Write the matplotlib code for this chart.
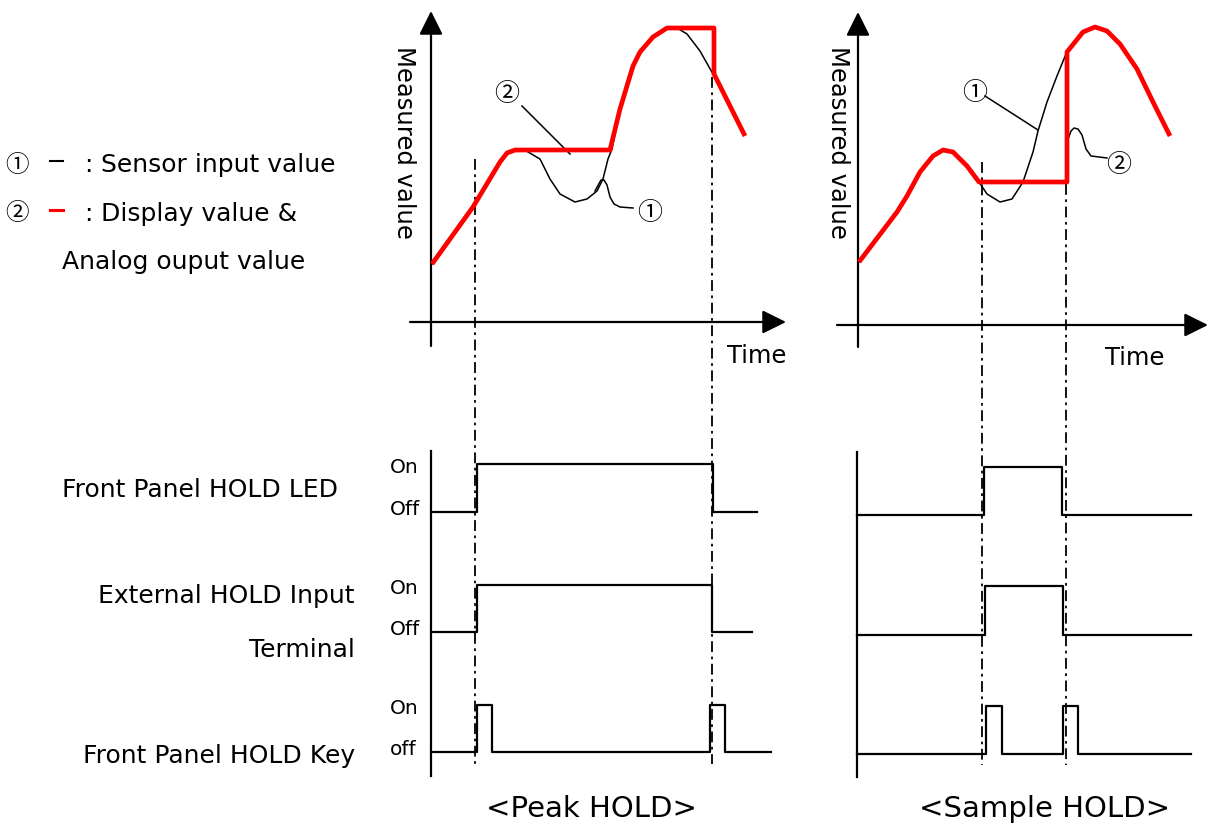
import matplotlib
matplotlib.use('Agg')
import matplotlib.pyplot as plt

plt.rcParams['font.family'] = ['DejaVu Sans', 'Noto Sans CJK KR']

# ---- curves (page pixel coords: x to the right, y downward) ----
# Peak HOLD: sensor input (black) and display value (red)
peak_sensor_x = [432, 473, 487, 500, 510, 523, 540, 550, 560, 575, 587, 597, 603, 608, 612,
                 620, 633, 640, 653, 667, 677, 687, 700, 713]
peak_sensor_y = [265, 208, 187, 163, 153, 150, 160, 180, 195, 203, 200, 192, 180, 160, 150,
                 110, 67, 53, 38, 29, 29, 35, 52, 75]
peak_display_x = [432, 473, 500, 507, 515, 527, 610, 620, 633, 640, 653, 667, 714, 714, 745]
peak_display_y = [265, 208, 163, 154, 151, 151, 151, 110, 67, 53, 38, 29, 29, 75, 137]

# Sample HOLD
sample_sensor_x = [859, 897, 907, 920, 933, 943, 953, 967, 979, 987, 1000, 1012, 1023, 1033,
                   1038, 1047, 1057, 1066]
sample_sensor_y = [263, 213, 197, 173, 157, 151, 153, 167, 183, 195, 203, 200, 183, 153,
                   132, 103, 77, 55]
sample_display_x = [859, 897, 907, 920, 933, 943, 953, 967, 979, 1067, 1067, 1083, 1095, 1107,
                    1120, 1137, 1153, 1170]
sample_display_y = [263, 213, 197, 173, 157, 151, 153, 167, 183, 183, 53, 33, 28, 32,
                    45, 70, 103, 137]

# ---- timing signals: edge times and states (steps-post) ----
peak_led_t = [431, 477, 713, 757]
peak_led_s = [0, 1, 0, 0]
peak_ext_t = [431, 477, 712, 752]
peak_ext_s = [0, 1, 0, 0]
peak_key_t = [431, 477, 492, 710, 725, 771]
peak_key_s = [0, 1, 0, 1, 0, 0]
peak_rows = [(513, 465), (633, 586), (753, 706)]  # (off y, on y)

sample_led_t = [857, 984, 1062, 1191]
sample_led_s = [0, 1, 0, 0]
sample_ext_t = [857, 985, 1063, 1191]
sample_ext_s = [0, 1, 0, 0]
sample_key_t = [857, 986, 1002, 1063, 1078, 1191]
sample_key_s = [0, 1, 0, 1, 0, 0]
sample_rows = [(516, 468), (636, 587), (755, 707)]

# hold trigger instants (dash-dot guide lines): x, top y, bottom y
peak_guides = [(475, 160, 765), (712, 78, 765)]
sample_guides = [(982, 163, 766), (1066, 185, 766)]

RED = '#ff0000'
CJK = ['Noto Sans CJK KR', 'DejaVu Sans']

fig = plt.figure(figsize=(12.08, 8.28), dpi=100)
ax = fig.add_axes([0, 0, 1, 1])
ax.set_xlim(0, 1208)
ax.set_ylim(828, 0)
ax.axis('off')


def arrow_axis(x0, y0, x1, y1):
    ax.annotate('', xy=(x1, y1), xytext=(x0, y0),
                arrowprops=dict(arrowstyle='-|>,head_length=1.45,head_width=0.72',
                                lw=1.6, color='black', shrinkA=0, shrinkB=0))


# top graph axes
arrow_axis(431, 347, 431, 12)
arrow_axis(410, 323, 786, 323)
arrow_axis(858, 348, 858, 13)
arrow_axis(837, 326, 1208, 326)

ax.plot(peak_sensor_x, peak_sensor_y, color='black', lw=1.1, zorder=3)
ax.plot(peak_display_x, peak_display_y, color=RED, lw=3.4, zorder=4,
        solid_joinstyle='round', solid_capstyle='butt')
ax.plot(sample_sensor_x, sample_sensor_y, color='black', lw=1.1, zorder=3)
ax.plot(sample_display_x, sample_display_y, color=RED, lw=3.4, zorder=4,
        solid_joinstyle='round', solid_capstyle='butt')

for x, ytop, ybot in peak_guides + sample_guides:
    ax.plot([x, x], [ytop, ybot], color='black', lw=1.3, linestyle=(0, (6, 2.5, 1.5, 2.5)))

# leader lines for circled labels
ax.plot([522, 570], [107, 155], color='black', lw=1.1)
ax.plot([595, 601, 604, 607, 610, 614, 620, 633], [192, 181, 181, 186, 198, 205, 208, 209],
        color='black', lw=1.1)
ax.plot([985, 1038], [97, 131], color='black', lw=1.1)
ax.plot([1067, 1071, 1074, 1078, 1082, 1086, 1091, 1107], [143, 132, 129, 130, 136, 150, 157, 159],
        color='black', lw=1.1)

circ = dict(fontsize=18, ha='center', va='center', family=CJK)
ax.text(507, 94, '②', **circ)
ax.text(650, 213, '①', **circ)
ax.text(975, 93, '①', **circ)
ax.text(1119, 165, '②', **circ)

lab = dict(fontsize=18, color='black')
ax.text(404, 142, 'Measured value', rotation=-90, ha='center', va='center',
        fontsize=17.5)
ax.text(838, 142, 'Measured value', rotation=-90, ha='center', va='center',
        fontsize=17.5)
ax.text(757, 356, 'Time', ha='center', va='center', fontsize=17.5)
ax.text(1135, 358, 'Time', ha='center', va='center', fontsize=17.5)

# legend
ax.text(17, 165, '①', ha='center', va='center', fontsize=17, family=CJK)
ax.plot([50, 63], [162, 162], color='black', lw=1.5)
ax.text(84, 165, ':', ha='left', va='center', **lab)
ax.text(101, 165, 'Sensor input value', ha='left', va='center', **lab)
ax.text(17, 214, '②', ha='center', va='center', fontsize=17, family=CJK)
ax.plot([50, 63], [211, 211], color=RED, lw=2.2)
ax.text(84, 214, ':', ha='left', va='center', **lab)
ax.text(101, 214, 'Display value &', ha='left', va='center', **lab)
ax.text(62, 262, 'Analog ouput value', ha='left', va='center', **lab)

# timing diagrams
for t_list, s_list, (off_y, on_y) in [(peak_led_t, peak_led_s, peak_rows[0]),
                                      (peak_ext_t, peak_ext_s, peak_rows[1]),
                                      (peak_key_t, peak_key_s, peak_rows[2]),
                                      (sample_led_t, sample_led_s, sample_rows[0]),
                                      (sample_ext_t, sample_ext_s, sample_rows[1]),
                                      (sample_key_t, sample_key_s, sample_rows[2])]:
    ys = [on_y if s else off_y for s in s_list]
    ax.plot(t_list, ys, drawstyle='steps-post', color='black', lw=1.6)

ax.plot([431, 431], [452, 777], color='black', lw=1.6)
ax.plot([857, 857], [453, 778], color='black', lw=1.6)

st = dict(fontsize=14.5, ha='left', va='center')
for off_y, on_y, off_txt in [(513, 465, 'Off'), (633, 586, 'Off'), (753, 706, 'off')]:
    ax.text(390, on_y + 3, 'On', **st)
    ax.text(390, off_y - 3, off_txt, **st)

ax.text(62, 490, 'Front Panel HOLD LED', ha='left', va='center', **lab)
ax.text(355, 596, 'External HOLD Input', ha='right', va='center', **lab)
ax.text(355, 650, 'Terminal', ha='right', va='center', **lab)
ax.text(355, 756, 'Front Panel HOLD Key', ha='right', va='center', **lab)

ax.text(592, 809, '<Peak HOLD>', ha='center', va='center', fontsize=21)
ax.text(1045, 809, '<Sample HOLD>', ha='center', va='center', fontsize=21)

fig.savefig('out.png', dpi=100)
